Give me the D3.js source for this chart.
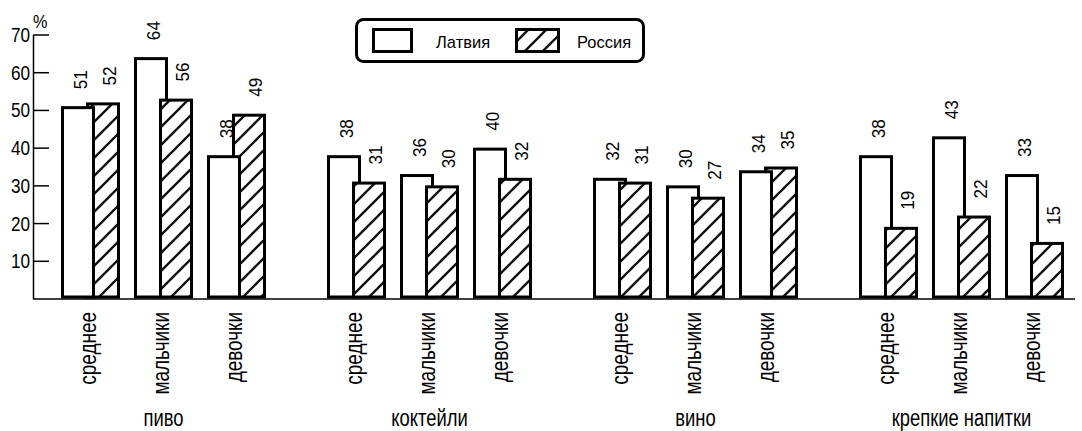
<!DOCTYPE html>
<html><head><meta charset="utf-8">
<script src="https://cdn.jsdelivr.net/npm/d3@7"></script>
<style>
html,body{margin:0;padding:0;background:#fff;}
svg text{font-family:"Liberation Sans",Arial,sans-serif;fill:#000;}
</style></head>
<body><svg id="chart" width="1082" height="431"></svg>
<script>
const groups = ["пиво", "коктейли", "вино", "крепкие напитки"];
const categories = ["среднее", "мальчики", "девочки"];
const seriesNames = ["Латвия", "Россия"];
// bar heights as drawn
const latviaValues = [51, 64, 38, 38, 33, 40, 32, 30, 34, 38, 43, 33];
const russiaValues = [52, 53, 49, 31, 30, 32, 31, 27, 35, 19, 22, 15];
// printed value labels
const latviaLabels = ["51", "64", "38", "38", "36", "40", "32", "30", "34", "38", "43", "33"];
const russiaLabels = ["52", "56", "49", "31", "30", "32", "31", "27", "35", "19", "22", "15"];
const yTicks = [10, 20, 30, 40, 50, 60, 70];

function condense(sel, k) {
  sel.each(function () {
    const L = this.getComputedTextLength();
    d3.select(this).attr("textLength", L * k).attr("lengthAdjust", "spacingAndGlyphs");
  });
  return sel;
}

const svg = d3.select("#chart");
const defs = svg.append("defs");
const pat = defs.append("pattern").attr("id", "hatch").attr("patternUnits", "userSpaceOnUse")
  .attr("width", 18).attr("height", 18);
pat.append("rect").attr("width", 18).attr("height", 18).attr("fill", "#fff");
pat.append("path").attr("d", "M0,18 L18,0 M-9,9 L9,-9 M9,27 L27,9")
  .attr("stroke", "#111").attr("stroke-width", 2.4);

const y = d3.scaleLinear().domain([0, 70]).range([298.5, 34.5]);
const x0 = d3.scaleBand().domain(groups).range([61, 61 + 3 * 266 + 219]).paddingInner(47 / 266).paddingOuter(0);
const x1 = d3.scaleBand().domain(categories).range([0, x0.bandwidth()]).padding(0);
const barW = 34, rusOff = 25, sw = 3;

// axis
const yAxis = d3.axisLeft(y).tickValues(yTicks).tickSize(-16).tickSizeOuter(0).tickPadding(3);
const ag = svg.append("g").attr("transform", "translate(33,0)").call(yAxis);
ag.attr("font-family", null).attr("font-size", null);
ag.select(".domain").attr("stroke", "#000").attr("stroke-width", 1.5);
ag.selectAll(".tick line").attr("stroke", "#000").attr("stroke-width", 1.5);
ag.selectAll(".tick text").attr("font-size", 19.5).attr("fill", "#000").attr("dy", "0.36em").call(condense, 0.88);
svg.append("text").attr("x", 33).attr("y", 28).attr("font-size", 18).text("%").call(condense, 0.9);

// baseline
svg.append("line").attr("x1", 33).attr("x2", 1075).attr("y1", y(0) + 0.5).attr("y2", y(0) + 0.5)
  .attr("stroke", "#000").attr("stroke-width", 1.5);

// data rows
const rows = [];
groups.forEach((g, gi) => categories.forEach((c, ci) => {
  const i = gi * 3 + ci;
  rows.push({g, c, i, lv: latviaValues[i], rv: russiaValues[i], ll: latviaLabels[i], rl: russiaLabels[i]});
}));

const barsG = svg.append("g");
const textG = svg.append("g");
rows.forEach(r => {
  const left = x0(r.g) + x1(r.c);
  const bars = [
    {v: r.lv, x: left, fill: "#fff"},
    {v: r.rv, x: left + rusOff, fill: "url(#hatch)"}
  ].sort((a, b) => b.v - a.v); // taller drawn first, shorter on top
  barsG.selectAll(null).data(bars).enter().append("rect")
    .attr("x", d => d.x + sw / 2).attr("width", barW - sw)
    .attr("y", d => y(d.v) + sw / 2).attr("height", d => y(0) - y(d.v) - sw)
    .attr("fill", d => d.fill).attr("stroke", "#000").attr("stroke-width", sw);
  // value labels
  const labs = [
    {t: r.ll, cx: left + barW / 2 + 2, top: y(r.lv)},
    {t: r.rl, cx: left + rusOff + barW / 2 + 6, top: y(r.rv)}
  ];
  textG.selectAll(null).data(labs).enter().append("text")
    .attr("transform", d => `translate(${d.cx + 6.8},${d.top - 17}) rotate(-90)`)
    .attr("text-anchor", "start")
    .attr("font-size", 19).text(d => d.t).call(condense, 0.9);
  // category label
  textG.append("text")
    .attr("transform", `translate(${left + 29 + 6.3},312) rotate(-90)`)
    .attr("text-anchor", "end")
    .attr("font-size", 24).text(r.c).call(condense, 0.79);
});

// group labels
textG.selectAll(null).data(groups).enter().append("text")
  .attr("x", g => x0(g) + (x0.bandwidth() - (x1.bandwidth() - barW - rusOff)) / 2).attr("y", 425.5)
  .attr("text-anchor", "middle").attr("font-size", 23).text(g => g).call(condense, 0.8);

// legend
const lg = svg.append("g");
lg.append("rect").attr("x", 356.5).attr("y", 19.5).attr("width", 287).attr("height", 42).attr("rx", 7)
  .attr("fill", "#fff").attr("stroke", "#000").attr("stroke-width", 3);
const legendItems = [
  {name: seriesNames[0], fill: "#fff", x: 373.5, w: 38, tx: 436},
  {name: seriesNames[1], fill: "url(#hatch)", x: 516.5, w: 42, tx: 577}
];
legendItems.forEach(d => {
  lg.append("rect").attr("x", d.x).attr("y", 29.5).attr("width", d.w).attr("height", 22)
    .attr("fill", d.fill).attr("stroke", "#000").attr("stroke-width", 3);
  lg.append("text").attr("x", d.tx).attr("y", 48).attr("font-size", 17).text(d.name).call(condense, 0.97);
});
</script></body></html>
